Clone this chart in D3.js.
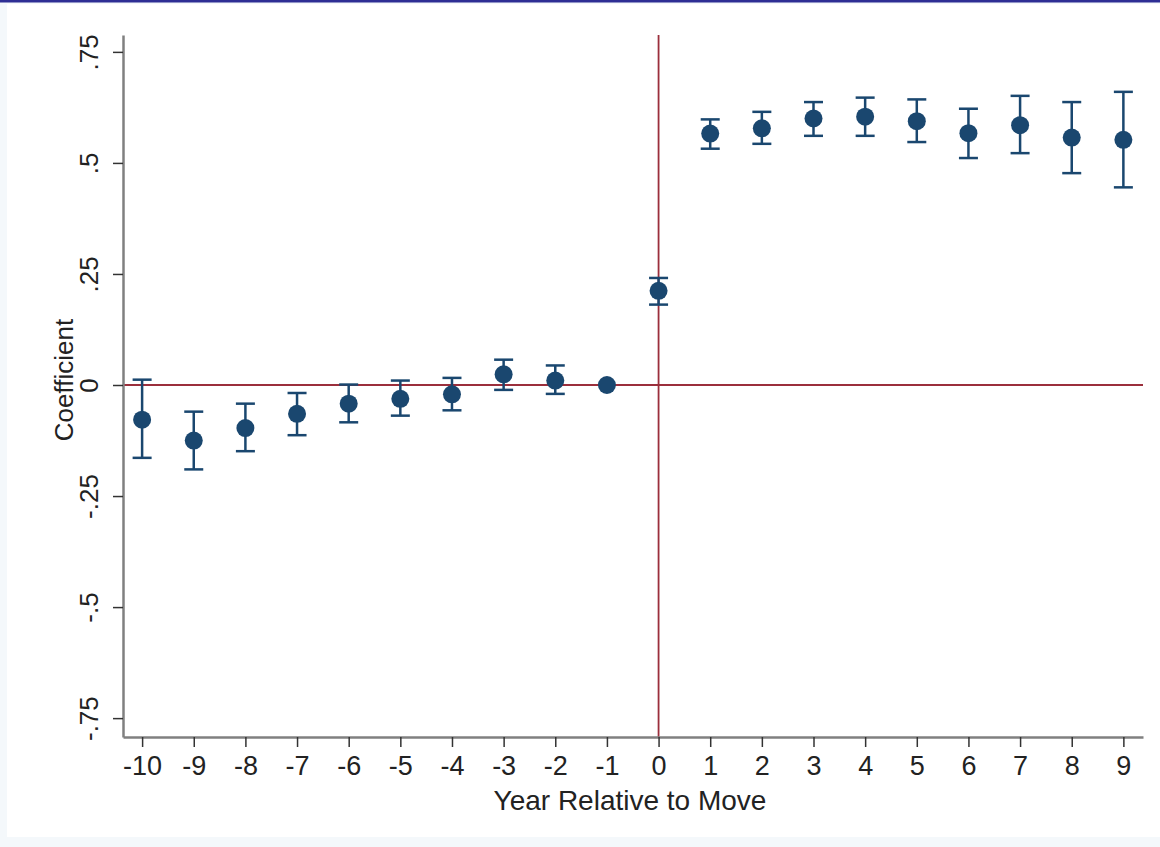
<!DOCTYPE html>
<html>
<head>
<meta charset="utf-8">
<script src="https://cdn.jsdelivr.net/npm/d3@7"></script>
<style>
	body { margin: 0; background: #f4f8fb; }
	svg { display: block; }
	text { font-family: "Liberation Sans", Arial, sans-serif; fill: #222; }
</style>
</head>
<body>
<div id="wrapper"></div>
<script>
// year relative to the move
var years = [-10, -9, -8, -7, -6, -5, -4, -3, -2, -1, 0, 1, 2, 3, 4, 5, 6, 7, 8, 9];
// point estimates
var coef = [-0.078, -0.125, -0.097, -0.065, -0.042, -0.031, -0.021, 0.024, 0.010, 0,
			0.212, 0.566, 0.578, 0.600, 0.604, 0.594, 0.567, 0.585, 0.557, 0.552];
// confidence interval bounds
var ciLow = [-0.164, -0.190, -0.149, -0.113, -0.084, -0.069, -0.057, -0.011, -0.020, 0,
			0.181, 0.532, 0.543, 0.561, 0.561, 0.547, 0.511, 0.522, 0.477, 0.445];
var ciHigh = [0.012, -0.060, -0.042, -0.018, 0.001, 0.010, 0.016, 0.057, 0.044, 0,
			0.241, 0.598, 0.615, 0.637, 0.647, 0.643, 0.622, 0.651, 0.637, 0.660];
var yTicks = [0.75, 0.5, 0.25, 0, -0.25, -0.5, -0.75];
var yTickLabels = [".75", ".5", ".25", "0", "-.25", "-.5", "-.75"];

var W = 1160, H = 847;
var navy = "#1a476f", maroon = "#9b2f3c";

var data = years.map(function(d, i) {
	return {year: d, b: coef[i], lo: ciLow[i], hi: ciHigh[i]};
});

var svg = d3.select("#wrapper")
			.append("svg")
			.attr("width", W)
			.attr("height", H);

// screenshot frame: blue strip on top, pale outer area, white graph area
svg.append("rect").attr("x", 0).attr("y", 0).attr("width", W).attr("height", H).attr("fill", "#f4f8fb");
svg.append("rect").attr("x", 7).attr("y", 4).attr("width", W - 7).attr("height", 833).attr("fill", "#ffffff");
svg.append("rect").attr("x", 0).attr("y", 0).attr("width", W).attr("height", 2.5).attr("fill", "#2e2e94");

var x = d3.scaleLinear()
			.domain([-10.37, 9.38])
			.range([123, 1143]);

var y = d3.scaleLinear()
			.domain([-0.7925, 0.788])
			.range([737, 35]);

// reference lines
svg.append("line")
	.attr("x1", x.range()[0]).attr("x2", x.range()[1])
	.attr("y1", y(0)).attr("y2", y(0))
	.attr("stroke", maroon).attr("stroke-width", 1.8);
svg.append("line")
	.attr("x1", x(0)).attr("x2", x(0))
	.attr("y1", y.range()[0]).attr("y2", y.range()[1])
	.attr("stroke", maroon).attr("stroke-width", 1.8);

// y axis
var yAxis = svg.append("g")
	.attr("transform", "translate(" + x.range()[0] + ",0)")
	.call(d3.axisLeft(y)
		.tickValues(yTicks)
		.tickFormat(function(d, i) { return yTickLabels[i]; })
		.tickSize(10)
		.tickPadding(0)
		.tickSizeOuter(0));
yAxis.select(".domain").attr("stroke", "#808080").attr("stroke-width", 2.5);
yAxis.selectAll(".tick line").attr("stroke", "#333").attr("stroke-width", 1.5);
yAxis.selectAll(".tick text")
	.attr("x", null).attr("dy", null)
	.attr("text-anchor", "middle")
	.attr("transform", "translate(-25,0) rotate(-90)")
	.style("font-size", "26px")
	.style("fill", "#222");

// x axis
var xAxis = svg.append("g")
	.attr("transform", "translate(0," + y.range()[0] + ")")
	.call(d3.axisBottom(x)
		.tickValues(years)
		.tickFormat(d3.format("d"))
		.tickSize(10)
		.tickPadding(9)
		.tickSizeOuter(0));
xAxis.select(".domain").attr("stroke", "#808080").attr("stroke-width", 2.5);
xAxis.selectAll(".tick line").attr("stroke", "#333").attr("stroke-width", 1.5);
xAxis.selectAll(".tick text")
	.style("font-size", "27px")
	.style("fill", "#222")
	.text(function(d) { return d < 0 ? "-" + Math.abs(d) : d; });

// axis titles
svg.append("text")
	.attr("transform", "translate(73,380) rotate(-90)")
	.attr("text-anchor", "middle")
	.style("font-size", "26px")
	.text("Coefficient");

svg.append("text")
	.attr("x", 630)
	.attr("y", 810)
	.attr("text-anchor", "middle")
	.style("font-size", "28px")
	.text("Year Relative to Move");

// error bars
var ci = data.filter(function(d) { return d.hi > d.lo; });
svg.selectAll("line.ci")
	.data(ci)
	.enter()
	.append("line")
	.attr("class", "ci")
	.attr("x1", function(d) { return x(d.year); })
	.attr("x2", function(d) { return x(d.year); })
	.attr("y1", function(d) { return y(d.lo); })
	.attr("y2", function(d) { return y(d.hi); })
	.attr("stroke", navy).attr("stroke-width", 2.5);

["lo", "hi"].forEach(function(k) {
	svg.selectAll("line.cap-" + k)
		.data(ci)
		.enter()
		.append("line")
		.attr("class", "cap-" + k)
		.attr("x1", function(d) { return x(d.year) - 9.5; })
		.attr("x2", function(d) { return x(d.year) + 9.5; })
		.attr("y1", function(d) { return y(d[k]); })
		.attr("y2", function(d) { return y(d[k]); })
		.attr("stroke", navy).attr("stroke-width", 2.5);
});

// markers
svg.selectAll("circle.pt")
	.data(data)
	.enter()
	.append("circle")
	.attr("class", "pt")
	.attr("cx", function(d) { return x(d.year); })
	.attr("cy", function(d) { return y(d.b); })
	.attr("r", 9)
	.attr("fill", navy);
</script>
</body>
</html>
